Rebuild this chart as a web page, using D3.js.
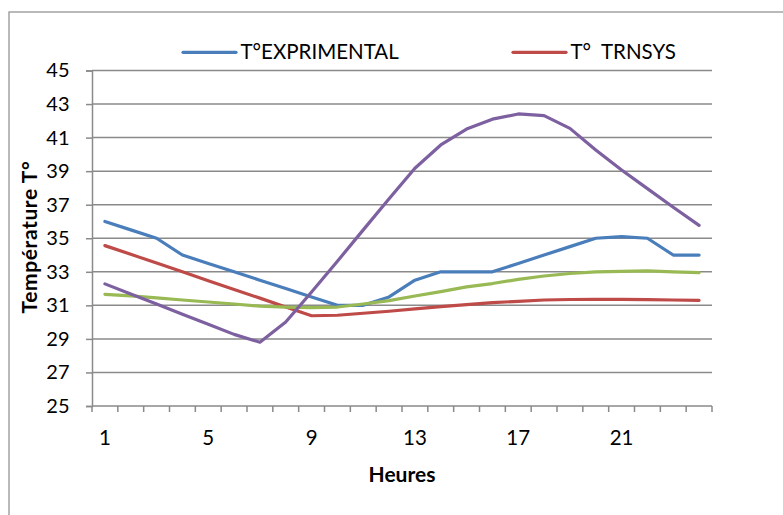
<!DOCTYPE html>
<html>
<head>
<meta charset="utf-8">
<script src="https://cdn.jsdelivr.net/npm/d3@7"></script>
<style>
  html, body { margin: 0; padding: 0; background: #fff; }
  svg { display: block; font-family: "Lato", "Open Sans", sans-serif; }
</style>
</head>
<body>
<svg id="chart" width="783" height="515"></svg>
<script>
const hours = [1,2,3,4,5,6,7,8,9,10,11,12,13,14,15,16,17,18,19,20,21,22,23,24];
const tickLabels = [1, 5, 9, 13, 17, 21];
const yTicks = [25,27,29,31,33,35,37,39,41,43,45];

const tExperimental = [36, 35.5, 35, 34, 33.5, 33, 32.5, 32, 31.5, 31, 31, 31.5, 32.5, 33, 33, 33, 33.5, 34, 34.5, 35, 35.1, 35, 34, 34];
const tTrnsys = [34.56, 34.04, 33.52, 33.0, 32.47, 31.95, 31.43, 30.9, 30.38, 30.41, 30.53, 30.65, 30.79, 30.92, 31.04, 31.16, 31.24, 31.32, 31.35, 31.36, 31.36, 31.34, 31.32, 31.3];
const serie3 = [31.66, 31.56, 31.44, 31.32, 31.2, 31.08, 30.95, 30.89, 30.87, 30.9, 31.08, 31.28, 31.56, 31.82, 32.1, 32.3, 32.55, 32.75, 32.9, 32.99, 33.02, 33.05, 33.0, 32.95];
const serie4 = [32.28, 31.68, 31.08, 30.47, 29.87, 29.27, 28.8, 30.01, 31.8, 33.63, 35.5, 37.36, 39.17, 40.56, 41.51, 42.1, 42.41, 42.31, 41.55, 40.26, 39.07, 37.96, 36.85, 35.77];

const seriesNames = ["T°EXPRIMENTAL", "T°  TRNSYS", "Série 3", "Série 4"];
const seriesValues = [tExperimental, tTrnsys, serie3, serie4];
const seriesColors = ["#4A7EBB", "#BE4B48", "#98B954", "#7D60A0"];
const legendShown = [0, 1];

const svg = d3.select("#chart");
const plot = { left: 92, right: 712, top: 70.5, bottom: 406 };

// outer chart frame (extends beyond the picture on right and bottom)
svg.append("rect")
  .attr("x", 9).attr("y", 12).attr("width", 800).attr("height", 540)
  .attr("fill", "none").attr("stroke", "#8c8c8c").attr("stroke-width", 1.2);

const x = d3.scaleBand().domain(hours).range([plot.left, plot.right]).padding(0);
const y = d3.scaleLinear().domain([25, 45]).range([plot.bottom, plot.top]);

const gridColor = "#8a8a8a";

// gridlines
svg.append("g")
  .selectAll("line")
  .data(yTicks.filter(v => v !== 25))
  .join("line")
  .attr("x1", plot.left).attr("x2", plot.right)
  .attr("y1", d => y(d)).attr("y2", d => y(d))
  .attr("stroke", gridColor).attr("stroke-width", 1.5);

// Y axis
const yAxis = svg.append("g")
  .attr("transform", `translate(${plot.left},0)`)
  .call(d3.axisLeft(y).tickValues(yTicks).tickSize(6).tickPadding(16.5));
yAxis.select(".domain").attr("stroke", gridColor).attr("stroke-width", 1.5);
yAxis.selectAll(".tick line").attr("stroke", gridColor).attr("stroke-width", 1.5);
yAxis.selectAll(".tick text")
  .attr("fill", "#000").attr("font-size", 20).attr("font-family", "Lato, sans-serif");

// X axis: line + ticks at category boundaries
const bounds = hours.map(h => x(h)).concat([x(hours[hours.length - 1]) + x.bandwidth()]);
const xg = svg.append("g");
xg.append("line")
  .attr("x1", plot.left).attr("x2", plot.right)
  .attr("y1", y(25)).attr("y2", y(25))
  .attr("stroke", gridColor).attr("stroke-width", 1.5);
xg.selectAll("line.tk")
  .data(bounds)
  .join("line").attr("class", "tk")
  .attr("x1", d => d).attr("x2", d => d)
  .attr("y1", y(25)).attr("y2", y(25) + 6)
  .attr("stroke", gridColor).attr("stroke-width", 1.5);
xg.selectAll("text")
  .data(tickLabels)
  .join("text")
  .attr("x", d => x(d) + x.bandwidth() / 2)
  .attr("y", 445)
  .attr("text-anchor", "middle")
  .attr("font-size", 20.5)
  .attr("fill", "#000")
  .text(d => d);

// axis titles
svg.append("text")
  .attr("x", (plot.left + plot.right) / 2).attr("y", 481.5)
  .attr("text-anchor", "middle")
  .attr("font-size", 21).attr("font-weight", "bold")
  .text("Heures");
svg.append("text")
  .attr("transform", "translate(37,237) rotate(-90)")
  .attr("text-anchor", "middle")
  .attr("font-size", 21).attr("font-weight", "bold")
  .attr("letter-spacing", 0.6)
  .text("Température T°");

// lines
const line = d3.line()
  .x((d, i) => x(hours[i]) + x.bandwidth() / 2)
  .y(d => y(d));

svg.append("g")
  .selectAll("path")
  .data(seriesValues)
  .join("path")
  .attr("d", d => line(d))
  .attr("fill", "none")
  .attr("stroke", (d, i) => seriesColors[i])
  .attr("stroke-width", 3.2)
  .attr("stroke-linejoin", "round")
  .attr("stroke-linecap", "round");

// legend
const legendX = [183, 513];
const lg = svg.append("g");
legendShown.forEach((si, k) => {
  lg.append("line")
    .attr("x1", legendX[k]).attr("x2", legendX[k] + 53)
    .attr("y1", 52.3).attr("y2", 52.3)
    .attr("stroke", seriesColors[si]).attr("stroke-width", 3.2)
    .attr("stroke-linecap", "round");
  lg.append("text")
    .attr("x", legendX[k] + 57.5).attr("y", 58.5)
    .attr("font-size", 20.5)
    .attr("xml:space", "preserve")
    .style("white-space", "pre")
    .text(seriesNames[si]);
});
</script>
</body>
</html>
